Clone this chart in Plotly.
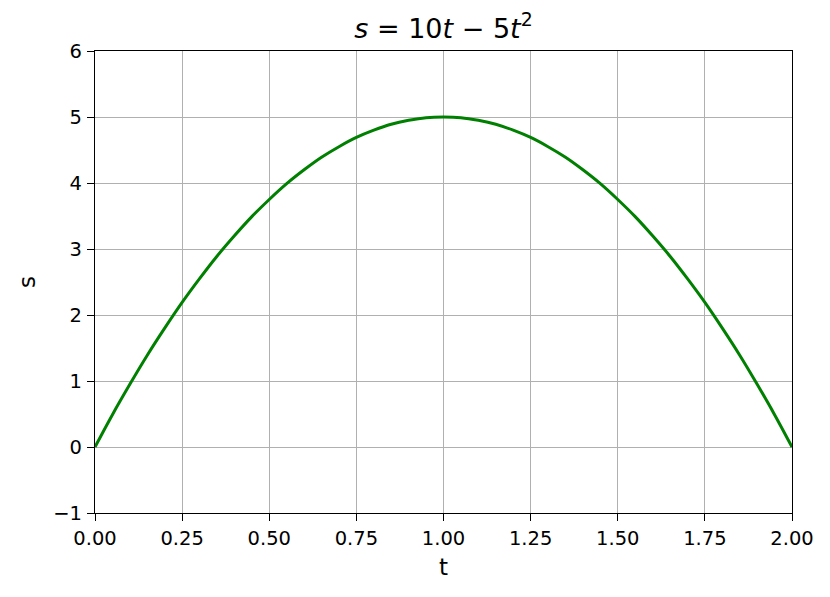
import plotly.graph_objects as go

# Values
t_values = [0.00, 0.05, 0.10, 0.15, 0.20, 0.25, 0.30, 0.35, 0.40, 0.45, 0.50,
            0.55, 0.60, 0.65, 0.70, 0.75, 0.80, 0.85, 0.90, 0.95, 1.00,
            1.05, 1.10, 1.15, 1.20, 1.25, 1.30, 1.35, 1.40, 1.45, 1.50,
            1.55, 1.60, 1.65, 1.70, 1.75, 1.80, 1.85, 1.90, 1.95, 2.00]
s_values = [0.00, 0.49, 0.95, 1.39, 1.80, 2.19, 2.55, 2.89, 3.20, 3.49, 3.75,
            3.99, 4.20, 4.39, 4.55, 4.69, 4.80, 4.89, 4.95, 4.99, 5.00,
            4.99, 4.95, 4.89, 4.80, 4.69, 4.55, 4.39, 4.20, 3.99, 3.75,
            3.49, 3.20, 2.89, 2.55, 2.19, 1.80, 1.39, 0.95, 0.49, 0.00]

x_ticks = [0.00, 0.25, 0.50, 0.75, 1.00, 1.25, 1.50, 1.75, 2.00]
x_tick_labels = ["0.00", "0.25", "0.50", "0.75", "1.00", "1.25", "1.50", "1.75", "2.00"]
y_ticks = [-1, 0, 1, 2, 3, 4, 5, 6]
y_tick_labels = ["\u22121", "0", "1", "2", "3", "4", "5", "6"]

title_text = "<i>s</i> = 10<i>t</i> \u2212 5<i>t</i><sup>2</sup>"

FONT = "DejaVu Sans"

fig = go.Figure()
fig.add_trace(go.Scatter(
    x=t_values, y=s_values, mode="lines",
    line=dict(color="#008000", width=3, shape="spline"),
    showlegend=False, hoverinfo="skip",
))

axis_common = dict(
    showgrid=True, gridcolor="#b0b0b0", gridwidth=1.1,
    showline=True, linecolor="black", linewidth=1.3, mirror=True,
    ticks="outside", ticklen=7, tickwidth=1.3, tickcolor="black",
    tickfont=dict(family=FONT, size=19.5, color="black"),
    zeroline=False, automargin=False,
)

fig.update_layout(
    width=830, height=597,
    margin=dict(l=87, r=46, t=43, b=92),
    paper_bgcolor="white", plot_bgcolor="white",
    font=dict(family=FONT, color="black"),
    title=dict(text=title_text, x=0.5, xref="paper", xanchor="center",
               y=0.966, yanchor="middle", yref="container",
               font=dict(family=FONT, size=27, color="black")),
    xaxis=dict(range=[0, 2], tickvals=x_ticks, ticktext=x_tick_labels,
               title=dict(text="t", font=dict(family=FONT, size=23), standoff=10),
               **axis_common),
    yaxis=dict(range=[-1, 6], tickvals=y_ticks, ticktext=y_tick_labels,
               ticklabelstandoff=1,
               title=dict(text="s", font=dict(family=FONT, size=23), standoff=11),
               **axis_common),
)

fig.write_html("out.html")
